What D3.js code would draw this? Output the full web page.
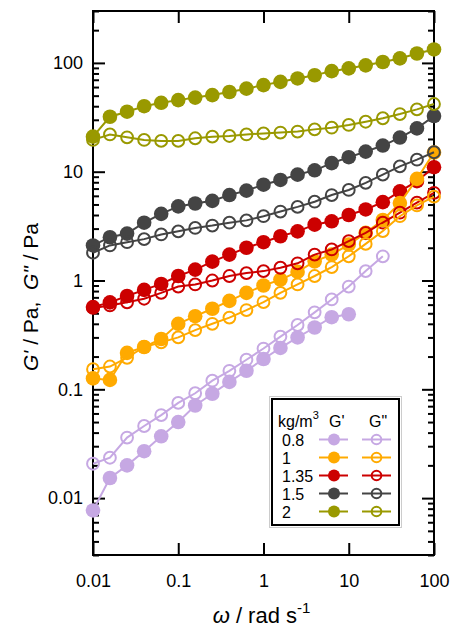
<!DOCTYPE html>
<html>
<head>
<meta charset="utf-8">
<script src="https://cdn.jsdelivr.net/npm/d3@7"></script>
<style>
  body { margin: 0; background: #fff; }
  svg { font-family: "Liberation Sans", Arial, sans-serif; }
  .axis path { display: none; }
  .axis line { stroke: #000; stroke-width: 2; }
  .axis text { font-size: 18px; fill: #000; }
</style>
</head>
<body>
<div id="chart"></div>
<script>
// angular frequency, rad/s
var freq = [0.01, 0.0158, 0.0251, 0.0398, 0.0631, 0.1, 0.158, 0.251, 0.398, 0.631,
  1, 1.58, 2.51, 3.98, 6.31, 10, 15.8, 25.1, 39.8, 63.1, 100];

var concentrations = ["0.8", "1", "1.35", "1.5", "2"];
var colors = ["#c6a8e3", "#ffaa00", "#cc0000", "#444444", "#999900"];

// storage modulus G' (Pa)
var gp08 = [0.0077, 0.0153, 0.020, 0.027, 0.037, 0.050, 0.071, 0.091, 0.117, 0.148, 0.19, 0.24, 0.30, 0.37, 0.46, 0.49];
var gp1 = [0.126, 0.122, 0.216, 0.245, 0.29, 0.40, 0.47, 0.55, 0.65, 0.77, 0.90, 1.02, 1.20, 1.5, 1.73, 2.14, 2.74, 3.6, 5.15, 8.6, 15];
var gp135 = [0.57, 0.63, 0.72, 0.82, 0.93, 1.10, 1.26, 1.49, 1.73, 2.0, 2.25, 2.55, 2.83, 3.26, 3.5, 4.0, 4.5, 5.25, 6.6, 8.2, 11];
var gp15 = [2.1, 2.5, 2.7, 3.4, 4.1, 4.8, 5.1, 5.4, 6.1, 6.7, 7.6, 8.4, 9.4, 10.3, 12, 13.6, 15.3, 17.4, 20.6, 25, 32.5];
var gp2 = [21, 32, 35.6, 40, 43, 45.5, 48, 50.6, 54, 58, 62.5, 67, 72, 77, 84, 89, 95, 102, 110, 122, 133];

// loss modulus G'' (Pa)
var gpp08 = [0.0207, 0.0235, 0.036, 0.046, 0.058, 0.075, 0.092, 0.12, 0.148, 0.187, 0.237, 0.305, 0.39, 0.51, 0.67, 0.88, 1.22, 1.67];
var gpp1 = [0.153, 0.162, 0.195, 0.245, 0.27, 0.30, 0.35, 0.40, 0.456, 0.535, 0.634, 0.77, 0.92, 1.10, 1.33, 1.67, 2.17, 2.85, 3.9, 4.9, 5.9];
var gpp135 = [0.56, 0.59, 0.63, 0.68, 0.77, 0.88, 0.92, 1.0, 1.1, 1.17, 1.22, 1.31, 1.44, 1.73, 1.93, 2.3, 2.74, 3.4, 4.2, 5.2, 6.4];
var gpp15 = [1.8, 2.1, 2.25, 2.4, 2.65, 2.83, 3.04, 3.2, 3.4, 3.57, 3.9, 4.3, 4.75, 5.3, 6.1, 6.8, 7.9, 9.4, 11.2, 12.9, 15.1];
var gpp2 = [19.6, 22, 20.7, 19.6, 19.2, 19.2, 20.3, 21, 21.3, 22, 22.5, 22.9, 23.4, 24.5, 25.4, 26.9, 28.8, 31, 33.9, 37.4, 41.9];

var xMajor = [0.01, 0.1, 1, 10, 100];
var yMajor = [0.01, 0.1, 1, 10, 100];

var gpSeries = [gp08, gp1, gp135, gp15, gp2];
var gppSeries = [gpp08, gpp1, gpp135, gpp15, gpp2];

var margin = {top: 11, right: 22, bottom: 74, left: 93};
var width = 456 - margin.left - margin.right;
var height = 629 - margin.top - margin.bottom;

var x = d3.scaleLog().domain([0.01, 100]).range([0, width]);
var y = d3.scaleLog().domain([0.003, 300]).range([height, 0]);

var svg = d3.select("#chart").append("svg")
  .attr("width", 456)
  .attr("height", 629)
  .append("g")
  .attr("transform", "translate(" + margin.left + "," + margin.top + ")");

// minor y ticks: 2..9 of every decade inside the domain
var yMinor = y.ticks().filter(function(d) {
  return yMajor.indexOf(d) < 0 && Math.abs(Math.log10(d) - Math.round(Math.log10(d))) > 1e-6;
});

var fmt = function(d) { return String(d); };

svg.append("g").attr("class", "axis")
  .attr("transform", "translate(0," + height + ")")
  .call(d3.axisBottom(x).tickValues(xMajor).tickFormat(fmt).tickSize(-12).tickPadding(19));
svg.append("g").attr("class", "axis")
  .call(d3.axisTop(x).tickValues(xMajor).tickFormat("").tickSize(-12));

svg.append("g").attr("class", "axis")
  .call(d3.axisLeft(y).tickValues(yMajor).tickFormat(fmt).tickSize(-12).tickPadding(10));
svg.append("g").attr("class", "axis")
  .call(d3.axisLeft(y).tickValues(yMinor).tickFormat("").tickSize(-6));
svg.append("g").attr("class", "axis")
  .attr("transform", "translate(" + width + ",0)")
  .call(d3.axisRight(y).tickValues(yMajor).tickFormat("").tickSize(-12));
svg.append("g").attr("class", "axis")
  .attr("transform", "translate(" + width + ",0)")
  .call(d3.axisRight(y).tickValues(yMinor).tickFormat("").tickSize(-6));

svg.append("rect")
  .attr("width", width)
  .attr("height", height)
  .attr("fill", "none")
  .attr("stroke", "#000")
  .attr("stroke-width", 2);

var line = d3.line()
  .x(function(d, i) { return x(freq[i]); })
  .y(function(d) { return y(d); });

function drawSeries(values, color, filled) {
  var g = svg.append("g");
  g.append("path")
    .datum(values)
    .attr("d", line)
    .attr("fill", "none")
    .attr("stroke", color)
    .attr("stroke-width", 2);
  g.selectAll("circle")
    .data(values)
    .enter()
    .append("circle")
    .attr("cx", function(d, i) { return x(freq[i]); })
    .attr("cy", function(d) { return y(d); })
    .attr("r", filled ? 7.3 : 5.9)
    .attr("fill", filled ? color : "none")
    .attr("stroke", filled ? "none" : color)
    .attr("stroke-width", 2);
}

var order = [4, 3, 2, 1, 0];
order.forEach(function(k) { drawSeries(gpSeries[k], colors[k], true); });
order.forEach(function(k) { drawSeries(gppSeries[k], colors[k], false); });

// axis titles
var xt = svg.append("text")
  .attr("x", width / 2 - 2)
  .attr("y", height + 68)
  .attr("text-anchor", "middle")
  .attr("font-size", 22);
xt.append("tspan").attr("font-style", "italic").text("ω");
xt.append("tspan").text(" / rad s");
xt.append("tspan").attr("font-size", 15).attr("dy", -10).text("-1");

var yt = svg.append("text")
  .attr("transform", "translate(" + (38 - margin.left) + "," + (297 - margin.top) + ") rotate(-90)")
  .attr("text-anchor", "middle")
  .attr("font-size", 21)
  .style("white-space", "pre");
yt.append("tspan").attr("font-style", "italic").text("G'");
yt.append("tspan").text(" / Pa,  ");
yt.append("tspan").attr("font-style", "italic").text("G\"");
yt.append("tspan").text(" / Pa");

// legend
var lg = d3.select("svg").append("g");
lg.append("rect")
  .attr("x", 269.5).attr("y", 396.5).attr("width", 132).attr("height", 131)
  .attr("fill", "#fff").attr("stroke", "#cccccc").attr("stroke-width", 1);
lg.append("rect")
  .attr("x", 272).attr("y", 399).attr("width", 127).attr("height", 126)
  .attr("fill", "none").attr("stroke", "#000").attr("stroke-width", 2);

var hd = lg.append("text").attr("x", 278).attr("y", 427).attr("font-size", 16);
hd.append("tspan").text("kg/m");
hd.append("tspan").attr("font-size", 11).attr("dy", -8).text("3");
lg.append("text").attr("x", 329).attr("y", 427).attr("font-size", 16).text("G'");
lg.append("text").attr("x", 369).attr("y", 427).attr("font-size", 16).text("G\"");

var rows = lg.selectAll(".row")
  .data(concentrations)
  .enter()
  .append("g")
  .attr("class", "row")
  .attr("transform", function(d, i) { return "translate(0," + (439.5 + i * 18) + ")"; });

rows.append("text")
  .attr("x", 282)
  .attr("y", 6)
  .attr("font-size", 16)
  .text(function(d) { return d; });
rows.append("line")
  .attr("x1", 319).attr("x2", 348).attr("y1", 0).attr("y2", 0)
  .attr("stroke", function(d, i) { return colors[i]; }).attr("stroke-width", 2);
rows.append("circle")
  .attr("cx", 334).attr("cy", 0).attr("r", 6)
  .attr("fill", function(d, i) { return colors[i]; });
rows.append("line")
  .attr("x1", 362).attr("x2", 391).attr("y1", 0).attr("y2", 0)
  .attr("stroke", function(d, i) { return colors[i]; }).attr("stroke-width", 2);
rows.append("circle")
  .attr("cx", 376.5).attr("cy", 0).attr("r", 4.8)
  .attr("fill", "none")
  .attr("stroke", function(d, i) { return colors[i]; }).attr("stroke-width", 2);
</script>
</body>
</html>
